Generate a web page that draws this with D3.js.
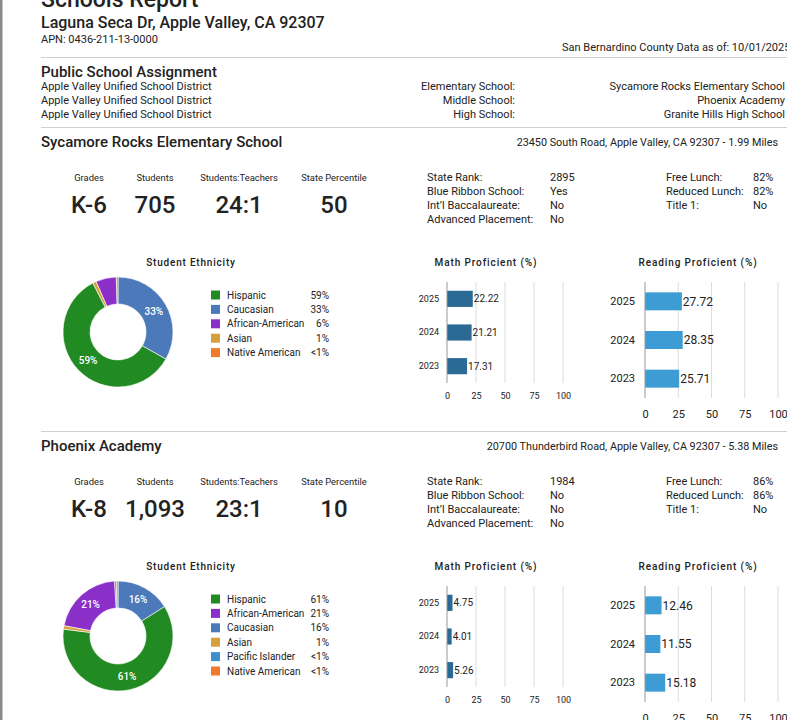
<!DOCTYPE html>
<html>
<head>
<meta charset="utf-8">
<script src="https://cdn.jsdelivr.net/npm/d3@7"></script>
<style>
  html, body { margin: 0; padding: 0; background: #fff; overflow: hidden; }
  svg { display: block; font-family: Roboto, "Noto Sans", sans-serif; }
</style>
</head>
<body>
<svg id="chart" width="787" height="720"></svg>
<script>
// ---------------- DATA ----------------
const reportTitle = "Schools Report";
const propertyAddress = "Laguna Seca Dr, Apple Valley, CA 92307";
const apnText = "APN: 0436-211-13-0000";
const dataAsOf = "San Bernardino County Data as of: 10/01/2025";
const assignmentTitle = "Public School Assignment";
const districts = ["Apple Valley Unified School District", "Apple Valley Unified School District", "Apple Valley Unified School District"];
const assignmentLevels = ["Elementary School:", "Middle School:", "High School:"];
const assignedSchools = ["Sycamore Rocks Elementary School", "Phoenix Academy", "Granite Hills High School"];

const schoolNames = ["Sycamore Rocks Elementary School", "Phoenix Academy"];
const schoolAddresses = ["23450 South Road, Apple Valley, CA 92307 - 1.99 Miles", "20700 Thunderbird Road, Apple Valley, CA 92307 - 5.38 Miles"];
const statLabels = ["Grades", "Students", "Students:Teachers", "State Percentile"];
const schoolStats = [["K-6", "705", "24:1", "50"], ["K-8", "1,093", "23:1", "10"]];
const infoLabelsA = ["State Rank:", "Blue Ribbon School:", "Int\u2019l Baccalaureate:", "Advanced Placement:"];
const infoValuesA = [["2895", "Yes", "No", "No"], ["1984", "No", "No", "No"]];
const infoLabelsB = ["Free Lunch:", "Reduced Lunch:", "Title 1:"];
const infoValuesB = [["82%", "82%", "No"], ["86%", "86%", "No"]];

const years = ["2025", "2024", "2023"];
const mathValues = [[22.22, 21.21, 17.31], [4.75, 4.01, 5.26]];
const readingValues = [[27.72, 28.35, 25.71], [12.46, 11.55, 15.18]];
const axisTicks = [0, 25, 50, 75, 100];
const mathTitle = "Math Proficient (%)";
const readingTitle = "Reading Proficient (%)";
const ethnicityTitle = "Student Ethnicity";

const ethnicityLabels1 = ["Hispanic", "Caucasian", "African-American", "Asian", "Native American"];
const ethnicityValues1 = [59, 33, 6, 1, 0.5];
const ethnicityText1 = ["59%", "33%", "6%", "1%", "<1%"];
const pieOrder1 = ["Caucasian", "Hispanic", "Asian", "African-American", "Native American"];

const ethnicityLabels2 = ["Hispanic", "African-American", "Caucasian", "Asian", "Pacific Islander", "Native American"];
const ethnicityValues2 = [61, 21, 16, 1, 0.5, 0.5];
const ethnicityText2 = ["61%", "21%", "16%", "1%", "<1%", "<1%"];
const pieOrder2 = ["Caucasian", "Hispanic", "Asian", "African-American", "Pacific Islander", "Native American"];

const ethnicityColorKeys = ["Hispanic", "Caucasian", "African-American", "Asian", "Native American", "Pacific Islander"];
const ethnicityColorValues = ["#218a22", "#4c79b9", "#8a30c8", "#d8a03c", "#f07a2c", "#3e8fcb"];

// ---------------- DRAW ----------------
const svg = d3.select("#chart");
const ink = "#222";
const color = d3.scaleOrdinal().domain(ethnicityColorKeys).range(ethnicityColorValues);

// left page border
svg.append("rect").attr("x", 0).attr("y", 0).attr("width", 2.5).attr("height", 720).attr("fill", "#8a8a8a");

// header
svg.append("text").attr("x", 41).attr("y", 7).attr("font-size", 23).attr("font-weight", 500).attr("fill", ink).text(reportTitle);
svg.append("text").attr("x", 41).attr("y", 28).attr("font-size", 16).attr("font-weight", 500).attr("fill", ink).text(propertyAddress);
svg.append("text").attr("x", 41).attr("y", 43).attr("font-size", 11).attr("fill", ink).text(apnText);
svg.append("text").attr("x", 562).attr("y", 51).attr("font-size", 11).attr("fill", ink).text(dataAsOf);
svg.append("line").attr("x1", 41).attr("x2", 787).attr("y1", 57.5).attr("y2", 57.5).attr("stroke", "#cfcfcf");

svg.append("text").attr("x", 41).attr("y", 77).attr("font-size", 15).attr("font-weight", 500).attr("fill", ink).text(assignmentTitle);
const rowY = d3.scalePoint().domain(d3.range(3)).range([90, 118]);
svg.append("g").selectAll("text").data(districts).join("text")
  .attr("x", 41).attr("y", (d, i) => rowY(i)).attr("font-size", 11).attr("fill", ink).text(d => d);
svg.append("g").selectAll("text").data(assignmentLevels).join("text")
  .attr("x", 515).attr("y", (d, i) => rowY(i)).attr("text-anchor", "end").attr("font-size", 11).attr("fill", ink).text(d => d);
svg.append("g").selectAll("text").data(assignedSchools).join("text")
  .attr("x", 785).attr("y", (d, i) => rowY(i)).attr("text-anchor", "end").attr("font-size", 11).attr("fill", ink).text(d => d);

function drawSchool(si, yOff, ethLabels, ethValues, ethText, pieOrder) {
  const g = svg.append("g").attr("transform", `translate(0,${yOff})`);
  g.append("line").attr("x1", 41).attr("x2", 787).attr("y1", 127.5).attr("y2", 127.5).attr("stroke", "#cfcfcf");
  g.append("text").attr("x", 41).attr("y", 147).attr("font-size", 15).attr("font-weight", 500).attr("fill", ink).text(schoolNames[si]);
  g.append("text").attr("x", 778).attr("y", 146).attr("text-anchor", "end").attr("font-size", 10.8).attr("fill", ink).text(schoolAddresses[si]);

  // stats
  const statX = [89, 155, 239, 334];
  g.append("g").selectAll("text").data(statLabels).join("text")
    .attr("x", (d, i) => statX[i]).attr("y", 181).attr("text-anchor", "middle").attr("font-size", 9.4).attr("fill", ink).text(d => d);
  g.append("g").selectAll("text").data(schoolStats[si]).join("text")
    .attr("x", (d, i) => statX[i]).attr("y", 213).attr("text-anchor", "middle").attr("font-size", 24).attr("font-weight", 500).attr("fill", ink).text(d => d);

  // info
  const infoY = d3.scaleLinear().domain([0, 3]).range([181, 223]);
  g.append("g").selectAll("text").data(infoLabelsA).join("text")
    .attr("x", 427).attr("y", (d, i) => infoY(i)).attr("font-size", 11).attr("fill", ink).text(d => d);
  g.append("g").selectAll("text").data(infoValuesA[si]).join("text")
    .attr("x", 550).attr("y", (d, i) => infoY(i)).attr("font-size", 11).attr("fill", ink).text(d => d);
  g.append("g").selectAll("text").data(infoLabelsB).join("text")
    .attr("x", 666).attr("y", (d, i) => infoY(i)).attr("font-size", 11).attr("fill", ink).text(d => d);
  g.append("g").selectAll("text").data(infoValuesB[si]).join("text")
    .attr("x", 753).attr("y", (d, i) => infoY(i)).attr("font-size", 11).attr("fill", ink).text(d => d);

  // ethnicity donut
  g.append("text").attr("x", 191).attr("y", 266).attr("text-anchor", "middle").attr("font-size", 10)
    .attr("font-weight", 500).attr("letter-spacing", 0.8).attr("fill", ink).text(ethnicityTitle);
  const items = ethLabels.map((l, i) => ({ label: l, value: ethValues[i], text: ethText[i] }));
  const pie = d3.pie().value(d => d.value).sort((a, b) => pieOrder.indexOf(a.label) - pieOrder.indexOf(b.label));
  const arc = d3.arc().innerRadius(28).outerRadius(55);
  const labelArc = d3.arc().innerRadius(41.5).outerRadius(41.5);
  const pg = g.append("g").attr("transform", "translate(118,332)");
  const arcs = pie(items);
  pg.selectAll("path").data(arcs).join("path")
    .attr("d", arc).attr("fill", d => color(d.data.label)).attr("stroke", "#fff").attr("stroke-width", 0.6);
  pg.selectAll("text").data(arcs.filter(d => d.data.value >= 10)).join("text")
    .attr("transform", d => `translate(${labelArc.centroid(d)})`).attr("text-anchor", "middle").attr("dy", "0.35em")
    .attr("font-size", 10).attr("font-weight", 500).attr("fill", "#fff").text(d => d.data.text);

  const legY = d3.scaleLinear().domain([0, 1]).range([295, 309.4]);
  const lg = g.append("g");
  lg.selectAll("rect").data(items).join("rect")
    .attr("x", 211).attr("y", (d, i) => legY(i) - 4.5).attr("width", 9).attr("height", 9).attr("fill", d => color(d.label));
  lg.selectAll("text.l").data(items).join("text").attr("class", "l")
    .attr("x", 227).attr("y", (d, i) => legY(i) + 3.5).attr("font-size", 10).attr("fill", ink).text(d => d.label);
  lg.selectAll("text.v").data(items).join("text").attr("class", "v")
    .attr("x", 329).attr("y", (d, i) => legY(i) + 3.5).attr("text-anchor", "end").attr("font-size", 10).attr("fill", ink).text(d => d.text);

  // bar charts
  function barChart(cfg) {
    const bg = g.append("g");
    bg.append("text").attr("x", cfg.titleX).attr("y", 266).attr("text-anchor", "middle").attr("font-size", 10)
      .attr("font-weight", 500).attr("letter-spacing", 0.9).attr("fill", ink).text(cfg.title);
    const x = d3.scaleLinear().domain([0, 100]).range([cfg.x0, cfg.x1]);
    const y = d3.scaleBand().domain(years).range([282, cfg.yBottom]).paddingInner(cfg.pad).paddingOuter(cfg.pad / 2);
    bg.append("g").selectAll("line").data(axisTicks.slice(1)).join("line")
      .attr("x1", d => x(d)).attr("x2", d => x(d)).attr("y1", 282).attr("y2", cfg.yBottom).attr("stroke", "#dcdcdc");
    const ax = bg.append("g").attr("transform", `translate(0,${cfg.tickY})`)
      .call(d3.axisBottom(x).tickValues(axisTicks).tickSize(0).tickPadding(0));
    ax.select(".domain").remove();
    ax.selectAll("text").attr("font-size", cfg.tickFont).attr("font-family", "Roboto, sans-serif").attr("fill", ink).attr("dy", "0.35em");
    const ay = bg.append("g").attr("transform", `translate(${cfg.x0},0)`)
      .call(d3.axisLeft(y).tickSize(0).tickPadding(cfg.yPad));
    ay.select(".domain").remove();
    ay.selectAll("text").attr("font-size", cfg.yearFont).attr("font-family", "Roboto, sans-serif").attr("fill", ink);
    bg.append("g").selectAll("rect").data(cfg.values).join("rect")
      .attr("x", x(0)).attr("y", (d, i) => y(years[i])).attr("width", d => x(d) - x(0))
      .attr("height", y.bandwidth()).attr("fill", cfg.color);
    bg.append("line").attr("x1", x(0)).attr("x2", x(0)).attr("y1", 282).attr("y2", cfg.yBottom).attr("stroke", "#999");
    bg.append("g").selectAll("text").data(cfg.values).join("text")
      .attr("x", d => x(d) + 1).attr("y", (d, i) => y(years[i]) + y.bandwidth() / 2).attr("dy", "0.35em")
      .attr("font-size", cfg.valFont).attr("fill", ink).text(d => d.toFixed(2));
  }
  barChart({ title: mathTitle, titleX: 486, x0: 447, x1: 563, yBottom: 383, pad: 0.52, tickY: 396,
    tickFont: 9, yearFont: 9, yPad: 8, valFont: 10, values: mathValues[si], color: "#2b6a94" });
  barChart({ title: readingTitle, titleX: 698, x0: 645, x1: 778, yBottom: 398, pad: 0.535, tickY: 414,
    tickFont: 11, yearFont: 11, yPad: 10, valFont: 12, values: readingValues[si], color: "#3e9cd4" });
}

drawSchool(0, 0, ethnicityLabels1, ethnicityValues1, ethnicityText1, pieOrder1);
drawSchool(1, 304, ethnicityLabels2, ethnicityValues2, ethnicityText2, pieOrder2);
</script>
</body>
</html>
